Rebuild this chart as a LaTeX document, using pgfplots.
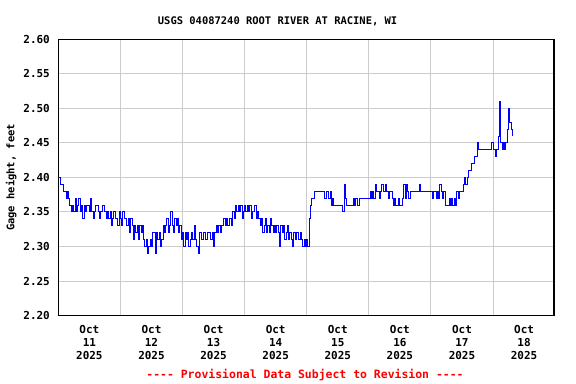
\documentclass[border=0pt]{standalone}
\usepackage{fontspec}
\setmonofont{DejaVu Sans Mono}
\usepackage{pgfplots}
\pgfplotsset{compat=1.18}
\definecolor{gridgray}{HTML}{CCCCCC}
\begin{document}
\begin{tikzpicture}
\useasboundingbox (-58.3bp,-68.4bp) rectangle (517.7bp,315.6bp);
\begin{axis}[
  at={(0,0)}, anchor=south west,
  scale only axis, width=495.7bp, height=276.3bp,
  xmin=0, xmax=7.982, ymin=2.20, ymax=2.60,
  axis line style={line width=1.2bp, black},
  major tick length=0pt, minor tick length=0pt,
  xtick={0.5,1.5,2.5,3.5,4.5,5.5,6.5,7.5},
  xticklabels={{Oct\\11\\2025},{Oct\\12\\2025},{Oct\\13\\2025},{Oct\\14\\2025},{Oct\\15\\2025},{Oct\\16\\2025},{Oct\\17\\2025},{Oct\\18\\2025}},
  minor xtick={1,2,3,4,5,6,7},
  xminorgrids=true, xmajorgrids=false, ymajorgrids=true,
  grid style={color=gridgray, line width=1bp},
  minor grid style={color=gridgray, line width=1bp},
  ytick={2.20,2.25,2.30,2.35,2.40,2.45,2.50,2.55,2.60},
  /pgf/number format/assume math mode=true,
  yticklabel style={/pgf/number format/fixed, /pgf/number format/fixed zerofill, /pgf/number format/precision=2,
    font=\ttfamily\bfseries\fontsize{11}{13}\selectfont, inner sep=0pt, anchor=east, xshift=-8.3bp},
  xticklabel style={font=\ttfamily\bfseries\fontsize{11}{13}\selectfont, align=center, inner sep=0pt, anchor=north, yshift=-10bp},
  title={USGS 04087240 ROOT RIVER AT RACINE, WI},
  title style={font=\ttfamily\bfseries\fontsize{10.5}{12}\selectfont, at={(axis description cs:0.4424,1.0445)}, anchor=center, inner sep=0pt},
  ylabel={Gage height, feet},
  ylabel style={font=\ttfamily\bfseries\fontsize{10.5}{12}\selectfont, at={(axis description cs:-0.095,0.5)}, anchor=center, inner sep=0pt},
  xlabel={---- Provisional Data Subject to Revision ----},
  xlabel style={font=\ttfamily\bfseries\fontsize{11.5}{13}\selectfont, text=red, at={(axis description cs:0.4977,-0.215)}, anchor=center, inner sep=0pt},
]
\addplot[const plot, color=blue, line width=1bp] table[row sep=\\, header=false, x expr=\coordindex/48, y index=0] {
2.40\\2.40\\2.39\\2.39\\2.38\\2.38\\2.37\\2.38\\2.37\\2.36\\2.35\\2.36\\2.35\\2.37\\2.35\\2.36\\2.37\\2.35\\2.36\\2.34\\2.36\\2.35\\2.36\\2.36\\2.35\\2.37\\2.35\\2.34\\2.35\\2.36\\2.36\\2.35\\2.34\\2.35\\2.36\\2.36\\2.35\\2.34\\2.35\\2.34\\2.35\\2.33\\2.34\\2.35\\2.34\\2.34\\2.33\\2.35\\
2.34\\2.33\\2.35\\2.34\\2.34\\2.33\\2.34\\2.32\\2.34\\2.33\\2.31\\2.33\\2.32\\2.33\\2.31\\2.33\\2.32\\2.33\\2.31\\2.30\\2.31\\2.29\\2.30\\2.31\\2.30\\2.32\\2.32\\2.29\\2.32\\2.31\\2.32\\2.30\\2.31\\2.33\\2.32\\2.33\\2.34\\2.32\\2.33\\2.35\\2.33\\2.32\\2.34\\2.33\\2.34\\2.32\\2.33\\2.31\\
2.32\\2.30\\2.32\\2.31\\2.32\\2.30\\2.31\\2.32\\2.31\\2.33\\2.31\\2.30\\2.29\\2.32\\2.32\\2.31\\2.32\\2.32\\2.31\\2.32\\2.32\\2.32\\2.31\\2.32\\2.30\\2.32\\2.33\\2.32\\2.33\\2.32\\2.33\\2.33\\2.34\\2.33\\2.34\\2.33\\2.34\\2.34\\2.33\\2.35\\2.34\\2.36\\2.35\\2.36\\2.35\\2.36\\2.34\\2.35\\
2.36\\2.35\\2.36\\2.35\\2.36\\2.34\\2.35\\2.35\\2.36\\2.34\\2.35\\2.34\\2.33\\2.34\\2.32\\2.33\\2.34\\2.32\\2.33\\2.32\\2.34\\2.33\\2.32\\2.33\\2.32\\2.33\\2.32\\2.30\\2.33\\2.32\\2.33\\2.31\\2.32\\2.33\\2.31\\2.32\\2.31\\2.30\\2.32\\2.31\\2.32\\2.32\\2.31\\2.32\\2.31\\2.30\\2.31\\2.30\\
2.31\\2.30\\2.34\\2.36\\2.37\\2.37\\2.38\\2.38\\2.38\\2.38\\2.38\\2.38\\2.38\\2.38\\2.37\\2.38\\2.38\\2.37\\2.38\\2.36\\2.37\\2.36\\2.36\\2.36\\2.36\\2.36\\2.36\\2.36\\2.35\\2.39\\2.37\\2.36\\2.36\\2.36\\2.36\\2.36\\2.37\\2.36\\2.37\\2.36\\2.36\\2.37\\2.37\\2.37\\2.37\\2.37\\2.37\\2.37\\
2.37\\2.38\\2.37\\2.38\\2.37\\2.39\\2.38\\2.38\\2.37\\2.38\\2.39\\2.38\\2.38\\2.39\\2.38\\2.37\\2.38\\2.38\\2.37\\2.36\\2.37\\2.36\\2.36\\2.37\\2.36\\2.36\\2.37\\2.39\\2.37\\2.39\\2.38\\2.37\\2.38\\2.38\\2.38\\2.38\\2.38\\2.38\\2.38\\2.39\\2.38\\2.38\\2.38\\2.38\\2.38\\2.38\\2.38\\2.38\\
2.38\\2.37\\2.38\\2.38\\2.37\\2.38\\2.37\\2.39\\2.38\\2.37\\2.38\\2.36\\2.36\\2.36\\2.37\\2.36\\2.37\\2.36\\2.37\\2.36\\2.38\\2.37\\2.38\\2.38\\2.38\\2.39\\2.40\\2.39\\2.40\\2.41\\2.41\\2.42\\2.42\\2.42\\2.43\\2.43\\2.45\\2.44\\2.44\\2.44\\2.44\\2.44\\2.44\\2.44\\2.44\\2.44\\2.44\\2.45\\
2.44\\2.44\\2.43\\2.44\\2.46\\2.51\\2.45\\2.44\\2.45\\2.44\\2.45\\2.47\\2.50\\2.48\\2.47\\2.46\\
};
\end{axis}
\end{tikzpicture}
\end{document}
